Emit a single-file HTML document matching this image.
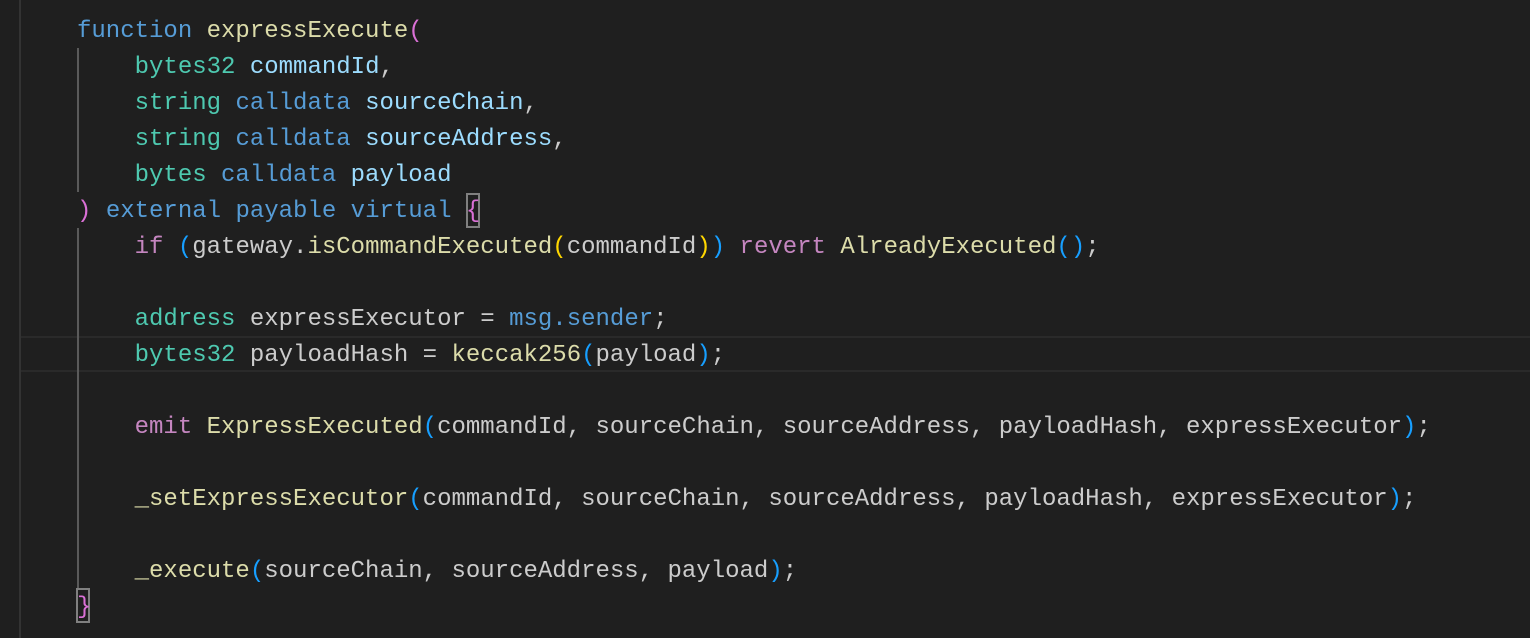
<!DOCTYPE html>
<html><head><style>
body{margin:0;width:1530px;height:638px;background:#1f1f1f;overflow:hidden;position:relative;font-family:"Liberation Mono",monospace;font-size:24px;}
.l{position:absolute;left:77px;height:36px;line-height:36px;white-space:pre;color:#cccccc;margin-top:2px}
.k{color:#569cd6}.f{color:#dcdcaa}.t{color:#4ec9b0}.p{color:#9cdcfe}.m{color:#da70d6}.b{color:#179fff}.y{color:#ffd700}.c{color:#c586c0}
.g{position:absolute;left:77px;width:2px;background:#5a5a5a}
.box{position:absolute;border:2px solid #808080;box-sizing:border-box}
</style></head><body>
<div style="position:absolute;left:19px;top:0;width:2px;height:638px;background:#333"></div>
<div style="position:absolute;left:21px;top:336px;width:1509px;height:36px;border-top:2px solid #2a2a2a;border-bottom:2px solid #2a2a2a;box-sizing:border-box"></div>
<div class="g" style="top:48px;height:144px"></div>
<div class="g" style="top:228px;height:360px"></div>
<div class="box" style="left:466px;top:193px;width:14px;height:35px"></div>
<div class="box" style="left:76px;top:588px;width:14px;height:35px"></div>
<div class="l" style="top:12px"><span class="k">function</span> <span class="f">expressExecute</span><span class="m">(</span></div>
<div class="l" style="top:48px">    <span class="t">bytes32</span> <span class="p">commandId</span>,</div>
<div class="l" style="top:84px">    <span class="t">string</span> <span class="k">calldata</span> <span class="p">sourceChain</span>,</div>
<div class="l" style="top:120px">    <span class="t">string</span> <span class="k">calldata</span> <span class="p">sourceAddress</span>,</div>
<div class="l" style="top:156px">    <span class="t">bytes</span> <span class="k">calldata</span> <span class="p">payload</span></div>
<div class="l" style="top:192px"><span class="m">)</span> <span class="k">external</span> <span class="k">payable</span> <span class="k">virtual</span> <span class="m">{</span></div>
<div class="l" style="top:228px">    <span class="c">if</span> <span class="b">(</span>gateway.<span class="f">isCommandExecuted</span><span class="y">(</span>commandId<span class="y">)</span><span class="b">)</span> <span class="c">revert</span> <span class="f">AlreadyExecuted</span><span class="b">()</span>;</div>
<div class="l" style="top:300px">    <span class="t">address</span> expressExecutor = <span class="k">msg.sender</span>;</div>
<div class="l" style="top:336px">    <span class="t">bytes32</span> payloadHash = <span class="f">keccak256</span><span class="b">(</span>payload<span class="b">)</span>;</div>
<div class="l" style="top:408px">    <span class="c">emit</span> <span class="f">ExpressExecuted</span><span class="b">(</span>commandId, sourceChain, sourceAddress, payloadHash, expressExecutor<span class="b">)</span>;</div>
<div class="l" style="top:480px">    <span class="f">_setExpressExecutor</span><span class="b">(</span>commandId, sourceChain, sourceAddress, payloadHash, expressExecutor<span class="b">)</span>;</div>
<div class="l" style="top:552px">    <span class="f">_execute</span><span class="b">(</span>sourceChain, sourceAddress, payload<span class="b">)</span>;</div>
<div class="l" style="top:588px"><span class="m">}</span></div>
</body></html>
